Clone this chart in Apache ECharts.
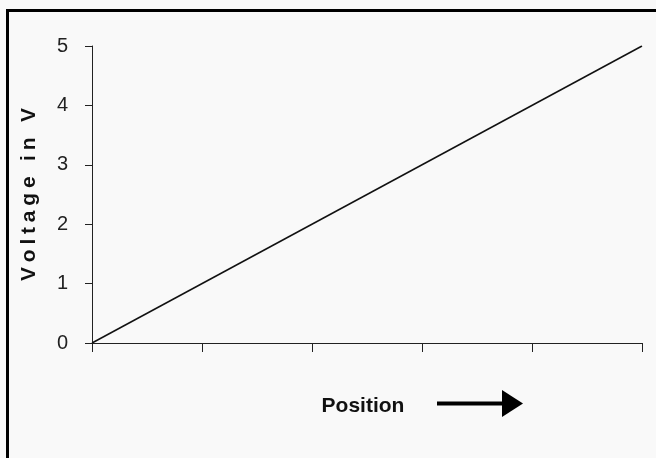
<!DOCTYPE html>
<html>
<head>
<meta charset="utf-8">
<script src="https://cdn.jsdelivr.net/npm/echarts@6/dist/echarts.min.js"></script>
<style>
html,body{margin:0;padding:0;background:#f9f9f9;overflow:hidden;}
#chart{width:656px;height:458px;}
</style>
</head>
<body>
<div id="chart"></div>
<script>
// Data
const positions = [0, 5];
const voltages = [0, 5];
const yTicks = [0, 1, 2, 3, 4, 5];
const yTitle = 'Voltage in V';
const xTitle = 'Position';

const sans = '"Liberation Sans", Arial, sans-serif';
const spaced = (s, key) => s.split('').map(c => '{' + key + '|' + c + '}').join('');

const chart = echarts.init(document.getElementById('chart'), null, {renderer: 'canvas'});
chart.setOption({
  backgroundColor: '#f9f9f9',
  animation: false,
  grid: {left: 92, right: 14, top: 46, bottom: 115},
  xAxis: {
    type: 'value', min: 0, max: 5, interval: 1,
    axisLine: {show: true, lineStyle: {color: '#222', width: 1}},
    axisTick: {show: true, length: 9, lineStyle: {color: '#222'}},
    axisLabel: {show: false},
    splitLine: {show: false},
    name: xTitle,
    nameLocation: 'middle',
    nameGap: 53,
    nameTextStyle: {
      color: '#111', fontFamily: sans, fontWeight: 'bold', fontSize: 21, padding: [0, 8, 0, 0]
    }
  },
  yAxis: {
    type: 'value', min: 0, max: 5, interval: 1,
    axisLine: {show: true, lineStyle: {color: '#222', width: 1}},
    axisTick: {show: true, length: 7, lineStyle: {color: '#222'}},
    axisLabel: {
      color: '#222', fontFamily: sans, fontSize: 20, margin: 24,
      padding: [0, 0, 5, 0],
      formatter: v => yTicks.includes(v) ? String(v) : ''
    },
    splitLine: {show: false},
    name: spaced(yTitle, 'v'),
    nameLocation: 'middle',
    nameGap: 52,
    nameRotate: 90,
    nameTextStyle: {
      color: '#111', fontFamily: sans, fontWeight: 'bold', fontSize: 21,
      rich: {v: {fontFamily: sans, fontWeight: 'bold', fontSize: 21, color: '#111', padding: [0, 2.4]}}
    }
  },
  series: [{
    type: 'line',
    data: positions.map((p, i) => [p, voltages[i]]),
    symbol: 'none',
    lineStyle: {color: '#111', width: 1.5}
  }],
  graphic: [
    {type: 'rect', shape: {x: 7, y: 9, width: 649, height: 3}, style: {fill: '#000'}},
    {type: 'rect', shape: {x: 6, y: 9, width: 3, height: 449}, style: {fill: '#000'}},
    {type: 'rect', shape: {x: 437, y: 401.5, width: 68, height: 4}, style: {fill: '#000'}},
    {type: 'polygon', shape: {points: [[502, 390], [523, 403.5], [502, 417]]}, style: {fill: '#000'}}
  ]
});
</script>
</body>
</html>
